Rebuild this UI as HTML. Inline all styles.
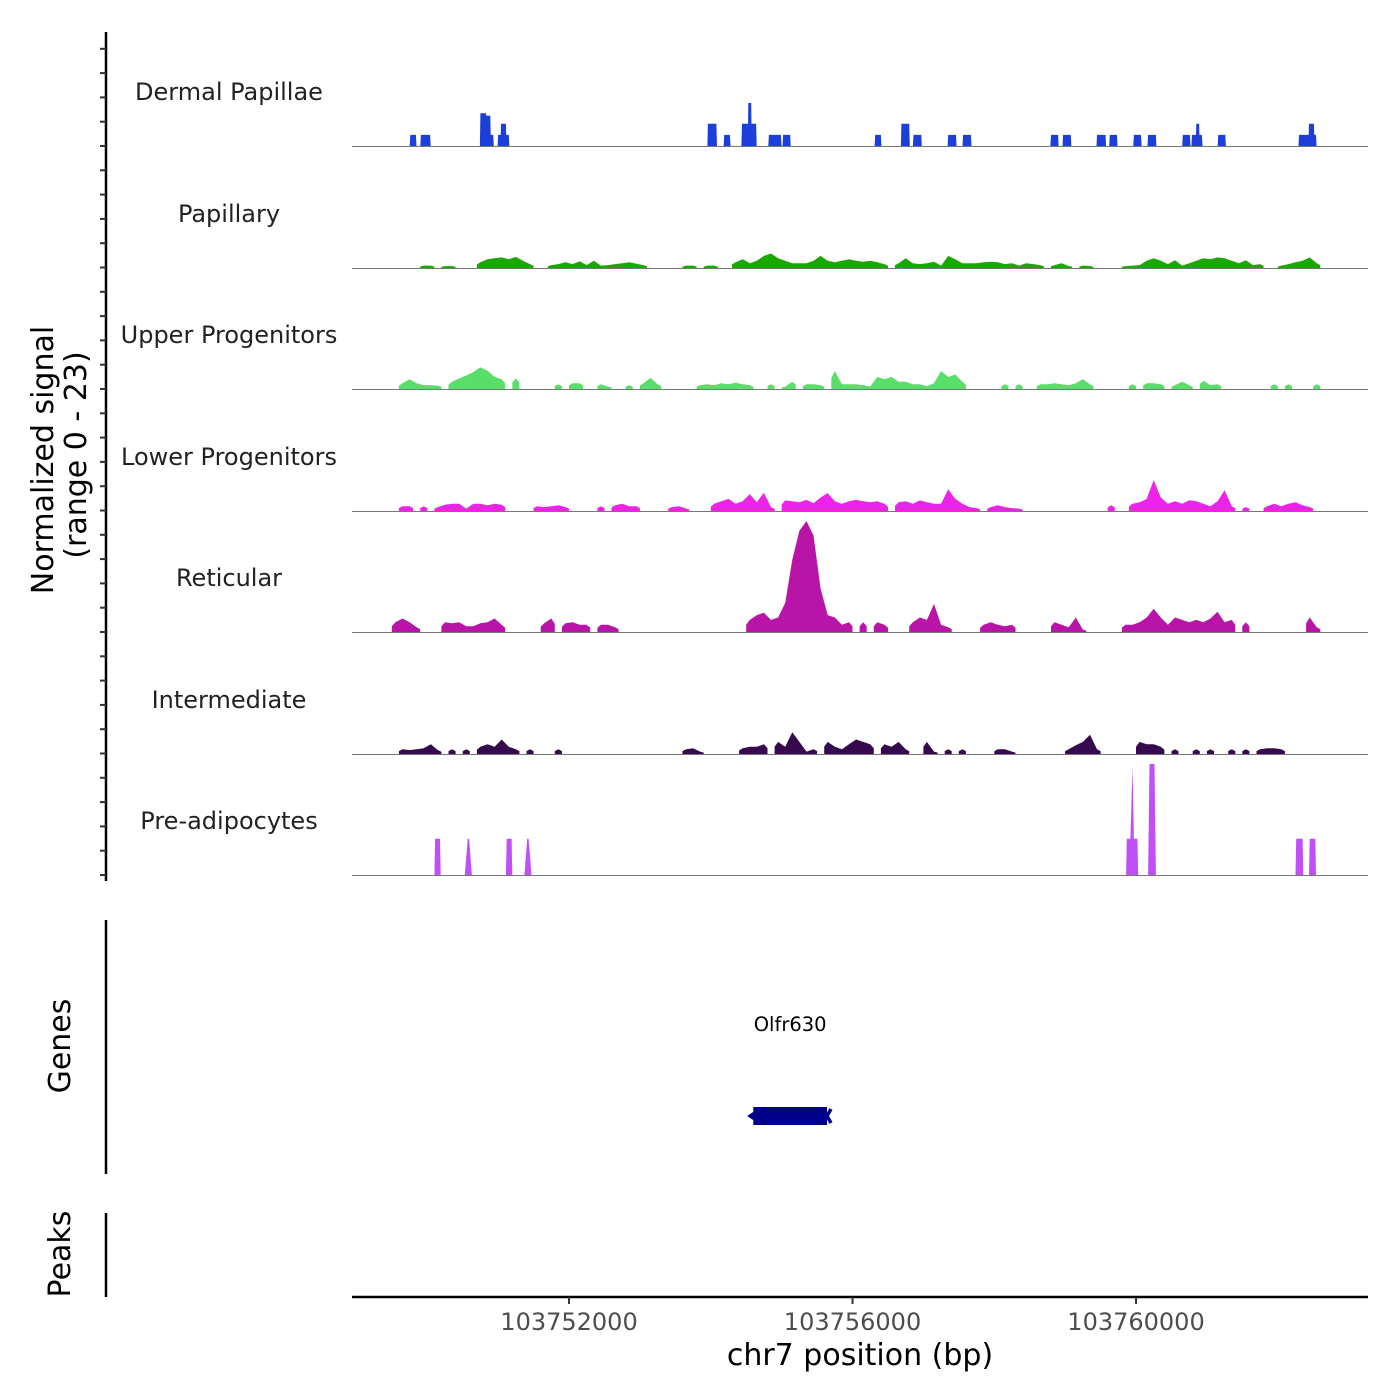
<!DOCTYPE html>
<html><head><meta charset="utf-8"><style>
html,body{margin:0;padding:0;background:#fff;}
svg{display:block;font-family:"DejaVu Sans","Liberation Sans",sans-serif;}
</style></head><body>
<svg id="chart" width="1400" height="1400" viewBox="0 0 1400 1400" xmlns="http://www.w3.org/2000/svg">
<g id="tracks"></g>
<g id="axes"></g>
</svg>
<script>
const trackNames = ["Dermal Papillae","Papillary","Upper Progenitors","Lower Progenitors","Reticular","Intermediate","Pre-adipocytes"];
const trackColors = ["#1c3fdc","#1aa800","#5ade6a","#f022e8","#b815a8","#36094f","#bf50f5"];
const xTickValues = [103752000,103756000,103760000];
const xTickLabels = ["103752000","103756000","103760000"];
const binStart = 103748900;
const binSize = 100;
const dermalSegments = [
[103749.76,103749.84,2.3],[103749.91,103750.04,2.3],
[103750.75,103750.83,6.8],[103750.83,103750.89,6.3],[103750.89,103750.93,2.3],
[103751.00,103751.04,2.3],[103751.04,103751.11,4.6],[103751.11,103751.15,2.3],
[103753.96,103754.08,4.6],[103754.19,103754.27,2.3],
[103754.44,103754.53,4.6],[103754.53,103754.57,8.9],[103754.57,103754.64,4.6],
[103754.82,103754.99,2.3],[103755.02,103755.12,2.3],[103756.32,103756.40,2.3],
[103756.69,103756.80,4.6],[103756.86,103756.97,2.3],[103757.35,103757.46,2.3],
[103757.56,103757.67,2.3],[103758.80,103758.90,2.3],[103758.97,103759.08,2.3],
[103759.45,103759.57,2.3],[103759.63,103759.73,2.3],[103759.97,103760.07,2.3],
[103760.17,103760.28,2.3],[103760.66,103760.76,2.3],
[103760.79,103760.85,2.3],[103760.85,103760.89,4.6],[103760.89,103760.93,2.3],
[103761.16,103761.26,2.3],
[103762.30,103762.44,2.3],[103762.44,103762.51,4.6],[103762.51,103762.54,2.3]
];
const preadipPoints = [
[103750.10,0],[103750.11,7.5],[103750.18,7.5],[103750.19,0],
[103750.53,0],[103750.57,7.5],[103750.59,7.5],[103750.63,0],
[103751.11,0],[103751.12,7.5],[103751.19,7.5],[103751.20,0],
[103751.37,0],[103751.41,7.5],[103751.43,7.5],[103751.47,0],
[103759.86,0],[103759.87,7.5],[103759.92,7.5],[103759.95,22.5],[103759.97,7.5],[103760.02,7.5],[103760.03,0],
[103760.17,0],[103760.19,23],[103760.26,23],[103760.28,0],
[103762.25,0],[103762.26,7.5],[103762.35,7.5],[103762.36,0],
[103762.44,0],[103762.45,7.5],[103762.53,7.5],[103762.54,0]
];
const papillaryBins = {10:0.5,11:0.5,13:0.4,14:0.4,18:1.2,19:1.8,20:2,21:2.2,22:1.8,23:2.3,24:1.5,25:0.8,28:0.6,29:0.8,30:1.2,31:0.8,32:1.4,33:0.6,34:1.5,35:0.5,36:0.6,37:0.8,38:1.0,39:1.2,40:0.9,41:0.6,47:0.5,48:0.5,50:0.5,51:0.5,54:1.2,55:1.8,56:1.0,57:1.5,58:2.5,59:3.0,60:2.0,61:1.5,62:1.0,63:1.0,64:1.0,65:1.5,66:2.5,67:1.5,68:1.2,69:1.5,70:1.8,71:1.5,72:1.3,73:1.5,74:1.2,75:0.8,77:1.0,78:2.0,79:1.0,80:0.8,81:1.0,82:1.3,83:0.5,84:2.5,85:1.8,86:1.0,87:1.0,88:1.0,89:1.2,90:1.3,91:1.2,92:0.8,93:1.0,94:0.5,95:1.0,96:0.8,97:0.6,99:0.6,100:1.0,101:0.4,103:0.5,104:0.4,109:0.4,110:0.5,111:0.6,112:1.5,113:2.0,114:1.5,115:0.8,116:1.6,117:0.5,118:1.0,119:1.5,120:2.0,121:1.8,122:2.2,123:2.0,124:1.5,125:1.0,126:1.6,127:0.6,128:0.8,131:0.5,132:0.8,133:1.2,134:1.5,135:2.2,136:1.0};
const upperBins = {7:1.2,8:2.0,9:1.2,10:0.8,11:0.8,12:0.7,14:1.5,15:2.2,16:2.8,17:3.5,18:4.5,19:3.8,20:2.5,21:2.0,23:2.2,29:1.0,31:1.2,32:1.2,35:1.0,36:0.5,39:0.8,41:1.2,42:2.3,43:1.0,49:0.8,50:1.0,51:0.8,52:1.2,53:1.0,54:1.3,55:1.0,56:0.8,59:1.0,61:0.5,62:1.5,64:1.0,65:1.0,66:0.8,68:3.7,69:1.0,70:1.0,71:1.0,72:0.8,73:0.5,74:2.5,75:2.0,76:2.5,77:1.5,78:1.5,79:1.0,80:1.0,81:0.6,82:1.2,83:3.7,84:2.5,85:3.0,86:1.5,92:1.0,94:1.0,97:1.0,98:1.0,99:1.2,100:1.0,101:0.8,102:1.2,103:2.0,104:1.0,110:1.0,112:1.2,113:1.2,114:1.0,116:0.8,117:1.5,118:0.8,120:1.7,121:0.8,122:1.0,130:1.0,132:1.0,136:1.0};
const lowerBins = {7:1.0,8:1.0,10:1.0,12:0.8,13:1.3,14:1.5,15:1.5,16:0.5,17:1.5,18:1.5,19:1.2,20:1.5,21:1.3,26:1.0,27:0.8,28:1.0,29:1.2,30:0.8,35:1.0,37:1.2,38:1.5,39:1.0,40:1.0,45:0.8,46:1.0,47:0.5,51:1.5,52:2.0,53:2.5,54:1.5,55:2.0,56:3.5,57:1.8,58:3.8,59:0.8,61:2.2,62:2.0,63:1.8,64:2.3,65:1.6,66:2.8,67:3.7,68:2.0,69:1.5,70:2.0,71:2.3,72:2.0,73:1.8,74:2.0,75:1.5,77:1.8,78:2.0,79:1.5,80:2.2,81:1.8,82:1.5,83:1.5,84:4.5,85:2.5,86:1.5,87:0.8,88:0.6,90:0.8,91:1.2,92:0.8,93:0.6,94:0.5,107:1.2,110:1.5,111:1.8,112:2.5,113:6.4,114:2.8,115:1.5,116:2.0,117:1.5,118:2.2,119:2.0,120:1.5,121:1.0,122:2.0,123:4.3,124:1.0,126:0.8,129:1.0,130:1.5,131:1.0,132:1.5,133:1.8,134:1.2,135:0.8};
const reticularBins = {6:2.0,7:2.8,8:2.0,9:1.0,13:2.0,14:1.8,15:2.0,16:1.2,17:1.2,18:1.8,19:2.0,20:2.8,21:1.5,27:1.8,28:2.8,30:1.8,31:2.0,32:1.5,33:1.5,35:1.5,36:1.5,37:1.0,56:2.5,57:3.5,58:4.0,59:2.5,60:3.0,61:6.0,62:15,63:21,64:23,65:20,66:9,67:3.5,68:3.0,69:1.5,70:2.0,72:2.0,74:2.0,75:1.5,79:2.0,80:3.0,81:2.5,82:5.8,83:1.5,84:1.0,89:1.5,90:2.0,91:1.5,92:1.2,93:1.5,99:2.0,100:1.5,101:1.0,102:3.0,103:0.5,109:1.5,110:1.5,111:2.0,112:3.0,113:4.8,114:3.0,115:1.5,116:3.0,117:2.5,118:2.0,119:2.5,120:2.0,121:2.8,122:4.2,123:2.0,124:2.5,126:2.0,135:3.0,136:1.0};
const intermediateBins = {7:1.0,8:0.8,9:1.0,10:1.2,11:2.0,12:0.8,14:1.0,16:1.0,18:1.5,19:2.0,20:1.5,21:3.0,22:1.5,23:1.0,25:1.0,29:1.0,47:1.0,48:1.2,49:0.5,55:1.2,56:1.5,57:1.5,58:2.0,60:2.5,61:1.5,62:4.5,63:2.5,64:0.5,65:1.0,67:2.5,68:1.5,69:1.0,70:2.0,71:3.0,72:2.5,73:2.0,75:2.0,76:1.5,77:2.5,78:1.0,81:2.5,82:0.5,84:1.0,86:1.0,91:1.0,92:1.0,93:0.5,101:1.0,102:1.8,103:2.5,104:4.0,105:1.0,111:2.5,112:2.0,113:2.0,114:1.5,116:1.0,119:1.0,121:1.0,124:1.0,126:1.0,128:1.0,129:1.2,130:1.2,131:1.0};
const geneName = "Olfr630";
const geneStart = 103754600;
const geneEnd = 103755640;

const NS = "http://www.w3.org/2000/svg";
const X0 = 352, X1 = 1368, D0 = 103748938, D1 = 103763273;
const xs = bp => X0 + (bp - D0) / (D1 - D0) * (X1 - X0);
const baselines = [146,268,389,511,632,754,875];
const yMax = 23, trackH = 111;
const ys = (base, v) => base - v / yMax * trackH;
function mk(tag, attrs, parent){ const e=document.createElementNS(NS,tag); for(const k in attrs) e.setAttribute(k,attrs[k]); parent.appendChild(e); return e; }
const tracksG = document.getElementById('tracks');
const axesG = document.getElementById('axes');

function segPoints(segs){ const pts=[]; segs.forEach(s=>{ pts.push([s[0]*1000-8,0],[s[0]*1000,s[2]],[s[1]*1000,s[2]],[s[1]*1000+8,0]); }); return pts; }
function kbPoints(p){ return p.map(q=>[q[0]*1000,q[1]]); }
function binPoints(bins){ const pts=[]; const idx=Object.keys(bins).map(Number).sort((a,b)=>a-b);
  idx.forEach(i=>{ const c=binStart+binSize*i+binSize/2; if(!(i-1 in bins)) pts.push([c-binSize/2,0],[c-binSize/2,bins[i]*0.6]); pts.push([c,bins[i]]); if(!(i+1 in bins)) pts.push([c+binSize/2,bins[i]*0.6],[c+binSize/2,0]); });
  return pts; }
const trackPoints = [segPoints(dermalSegments),binPoints(papillaryBins),binPoints(upperBins),binPoints(lowerBins),binPoints(reticularBins),binPoints(intermediateBins),kbPoints(preadipPoints)];

trackNames.forEach((name,t)=>{
  const base = baselines[t];
  const g = mk('g',{},tracksG);
  
  
  const lbl = mk('text',{x:229,y:base-46,'text-anchor':'middle','font-size':24,fill:'#222'},g);
  lbl.textContent = name;
  
  
  const pts = trackPoints[t];
  let d = 'M' + xs(pts[0][0]).toFixed(1) + ',' + base;
  pts.forEach(p=>{ d += 'L' + xs(p[0]).toFixed(1) + ',' + ys(base,p[1]).toFixed(1); });
  d += 'L' + xs(pts[pts.length-1][0]).toFixed(1) + ',' + base + 'Z';
  const area = mk('path',{d:d,fill:trackColors[t],stroke:'none'},g);
  
  
  const bl = mk('line',{x1:X0,x2:X1,y1:base+0.5,y2:base+0.5,stroke:'#777','stroke-width':1},g);
  
  
});

let ax = mk('line',{x1:106,x2:106,y1:32,y2:881,stroke:'#000','stroke-width':2.5},axesG);


for(let y=146-4*24.3; y<=882; y+=24.3){
  const tk = mk('line',{x1:100,x2:106,y1:y,y2:y,stroke:'#333','stroke-width':2},axesG);
  
  
}
let yt = mk('text',{transform:'translate(53,460) rotate(-90)','text-anchor':'middle','font-size':30,fill:'#000'},axesG);
yt.textContent = 'Normalized signal';


let yt2 = mk('text',{transform:'translate(86,455) rotate(-90)','text-anchor':'middle','font-size':30,fill:'#000'},axesG);
yt2.textContent = '(range 0 - 23)';



let ga = mk('line',{x1:106,x2:106,y1:920,y2:1174,stroke:'#000','stroke-width':2.5},axesG);


let gt = mk('text',{transform:'translate(70,1046) rotate(-90)','text-anchor':'middle','font-size':30,fill:'#000'},axesG);
gt.textContent = 'Genes';


let gl = mk('text',{x:(xs(geneStart)+xs(geneEnd))/2,y:1031,'text-anchor':'middle','font-size':19.5,fill:'#000'},axesG);
gl.textContent = geneName;


let gb = mk('rect',{x:xs(geneStart),y:1107,width:xs(geneEnd)-xs(geneStart),height:18,fill:'#00008b'},axesG);


let garr = mk('path',{d:`M${xs(geneStart)+6},1110 L${xs(geneStart)-3},1116 L${xs(geneStart)+6},1122 M${xs(geneEnd)-4},1109 L${xs(geneEnd)+4},1123 M${xs(geneEnd)+4},1109 L${xs(geneEnd)-4},1123`,stroke:'#00008b','stroke-width':3.5,fill:'none'},axesG);



let pa = mk('line',{x1:106,x2:106,y1:1213,y2:1297,stroke:'#000','stroke-width':2.5},axesG);


let pt = mk('text',{transform:'translate(70,1254) rotate(-90)','text-anchor':'middle','font-size':30,fill:'#000'},axesG);
pt.textContent = 'Peaks';



let xa = mk('line',{x1:X0,x2:X1,y1:1297,y2:1297,stroke:'#000','stroke-width':2.5},axesG);


xTickValues.forEach((v,i)=>{
  const tk = mk('line',{x1:xs(v),x2:xs(v),y1:1297,y2:1304,stroke:'#333','stroke-width':2},axesG);
  
  
  const tl = mk('text',{x:xs(v),y:1330,'text-anchor':'middle','font-size':24,fill:'#4d4d4d'},axesG);
  tl.textContent = xTickLabels[i];
  
  
});
let xt = mk('text',{x:860,y:1365,'text-anchor':'middle','font-size':30,fill:'#000'},axesG);
xt.textContent = 'chr7 position (bp)';


</script>
</body></html>
